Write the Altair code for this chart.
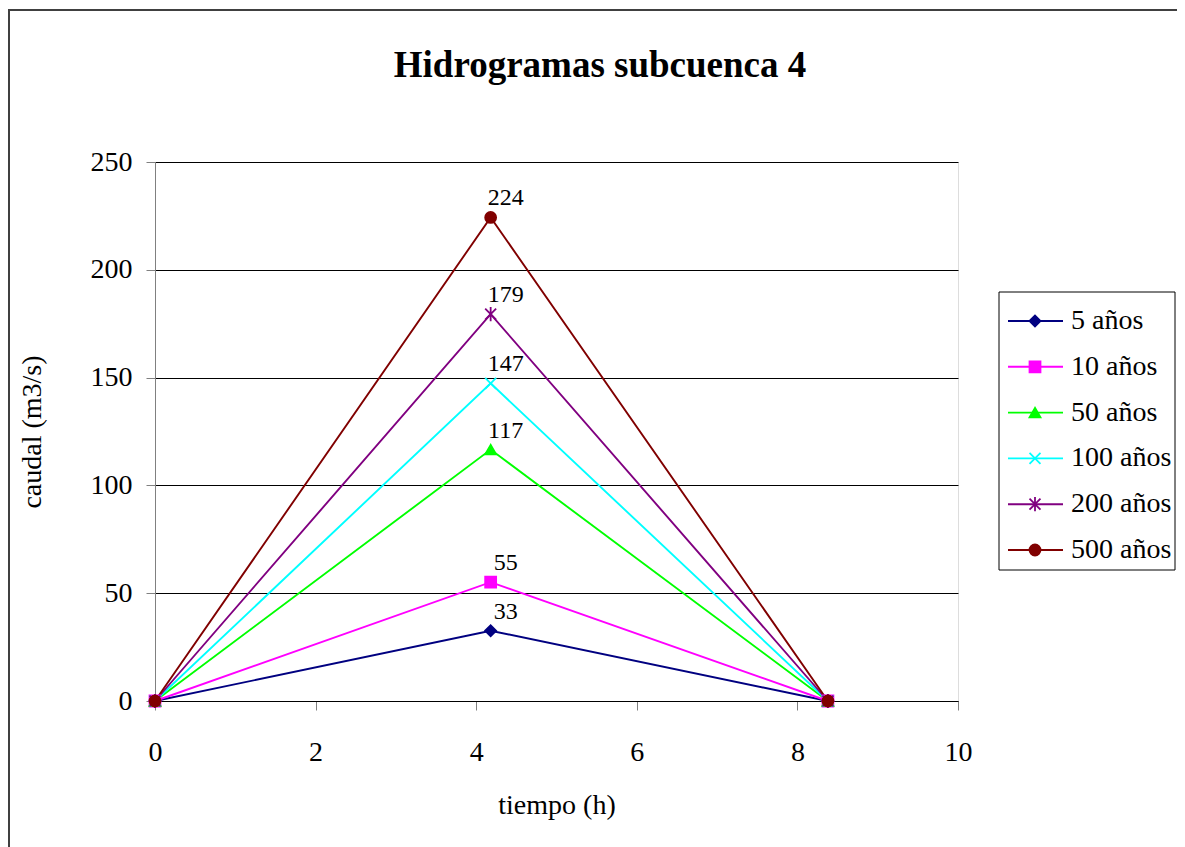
import altair as alt
import pandas as pd

series = ["5 años", "10 años", "50 años", "100 años", "200 años", "500 años"]
colors = ["#000080", "#FF00FF", "#00FF00", "#00FFFF", "#800080", "#800000"]
shapes = ["diamond", "square", "triangle-up",
          "M-1,-1L1,1M-1,1L1,-1",
          "M-1,-1L1,1M-1,1L1,-1M0,-1.3L0,1.3",
          "circle"]
times = [0.0, 4.18, 8.38]
peaks = [32.6, 55.1, 116.6, 147.3, 179.4, 224.3]

rows = []
for s, p in zip(series, peaks):
    for t, q in zip(times, [0.0, p, 0.0]):
        rows.append({"serie": s, "t": t, "q": q})
df = pd.DataFrame(rows)
peak_df = pd.DataFrame({"serie": series, "t": [times[1]] * 6, "q": peaks})
leg_df = pd.DataFrame({"serie": series})

FONT = "Liberation Serif"
W, H = 803, 539
LW = 1.9
MS = 120

color_scale = alt.Scale(domain=series, range=colors)
shape_scale = alt.Scale(domain=series, range=shapes)

x_scale = alt.Scale(domain=[0, 10], nice=False, zero=True)
y_scale = alt.Scale(domain=[0, 250], nice=False, zero=True)

x_enc = alt.X("t:Q", scale=x_scale,
              axis=alt.Axis(title="tiempo (h)", values=[0, 2, 4, 6, 8, 10], format="d",
                            grid=False, domainColor="black", tickColor="#808080",
                            tickSize=9, labelPadding=28, titlePadding=25,
                            labelFlush=False, labelOverlap=False,
                            labelFont=FONT, titleFont=FONT, labelFontSize=28,
                            titleFontSize=28, titleFontWeight="normal",
                            labelColor="black", titleColor="black"))
y_enc = alt.Y("q:Q", scale=y_scale,
              axis=alt.Axis(title="caudal (m3/s)", values=[0, 50, 100, 150, 200, 250],
                            format="d", grid=True, gridColor="black", gridWidth=1,
                            domainColor="#808080", tickColor="#808080", tickSize=9,
                            labelPadding=14, titlePadding=44, labelFont=FONT,
                            labelFlush=False, labelOverlap=False,
                            titleFont=FONT, labelFontSize=28, titleFontSize=28,
                            titleFontWeight="normal", labelColor="black",
                            titleColor="black"))
x_plain = alt.X("t:Q", scale=x_scale)
y_plain = alt.Y("q:Q", scale=y_scale)

lines = alt.Chart(df).mark_line(strokeWidth=LW).encode(
    x=x_enc, y=y_enc,
    color=alt.Color("serie:N", scale=color_scale, legend=None),
    detail="serie:N",
)
points = alt.Chart(df).mark_point(filled=True, strokeWidth=1.8, size=MS, opacity=1).encode(
    x=x_plain, y=y_plain,
    fill=alt.Fill("serie:N", scale=color_scale, legend=None),
    stroke=alt.Stroke("serie:N", scale=color_scale, legend=None),
    shape=alt.Shape("serie:N", scale=shape_scale, legend=None),
)
labels = alt.Chart(peak_df).mark_text(font=FONT, fontSize=24, align="center",
                                       baseline="middle", dx=15, dy=-19,
                                       color="black").encode(
    x=x_plain, y=y_plain, text=alt.Text("q:Q", format=".0f"))

data_layer = alt.layer(lines, points, labels)

title = alt.Chart(pd.DataFrame({"t": ["Hidrogramas subcuenca 4"]})).mark_text(
    font=FONT, fontSize=37, fontWeight="bold", align="center", baseline="middle",
    color="black").encode(x=alt.value(445), y=alt.value(-96), text="t:N")

one = pd.DataFrame({"a": [0]})
frame_top = alt.Chart(one).mark_rule(stroke="#404040", strokeWidth=2).encode(
    x=alt.value(-147), x2=alt.value(1100), y=alt.value(-152))
frame_left = alt.Chart(one).mark_rule(stroke="#404040", strokeWidth=2).encode(
    x=alt.value(-146), y=alt.value(-153), y2=alt.value(900))

legbox = alt.Chart(one).mark_rect(
    fill="white", stroke="black", strokeWidth=1).encode(
    x=alt.value(844), x2=alt.value(1020), y=alt.value(130), y2=alt.value(408))

leg_y = alt.Y("serie:N", scale=alt.Scale(type="point", domain=series, range=[159, 388],
                                          padding=0), axis=None)
leg_lines = alt.Chart(leg_df).mark_rule(strokeWidth=LW).encode(
    y=leg_y, x=alt.value(853), x2=alt.value(908),
    color=alt.Color("serie:N", scale=color_scale, legend=None))
leg_pts = alt.Chart(leg_df).mark_point(filled=True, strokeWidth=1.8, size=MS, opacity=1).encode(
    y=leg_y, x=alt.value(880),
    fill=alt.Fill("serie:N", scale=color_scale, legend=None),
    stroke=alt.Stroke("serie:N", scale=color_scale, legend=None),
    shape=alt.Shape("serie:N", scale=shape_scale, legend=None))
leg_txt = alt.Chart(leg_df).mark_text(font=FONT, fontSize=28, align="left",
                                       baseline="middle", color="black").encode(
    y=leg_y, x=alt.value(916), text="serie:N")

legend_layer = alt.layer(legbox, leg_lines, leg_pts, leg_txt)

chart = alt.layer(frame_top, frame_left, title, data_layer, legend_layer).resolve_scale(
    y="independent"
).properties(
    width=W, height=H, padding={"left": 147, "top": 154, "right": 219, "bottom": 146},
    autosize=alt.AutoSizeParams(type="none"),
).configure_view(stroke=None).configure(background="white")

chart.save("out.html", embed_options={"renderer": "svg", "actions": False})
